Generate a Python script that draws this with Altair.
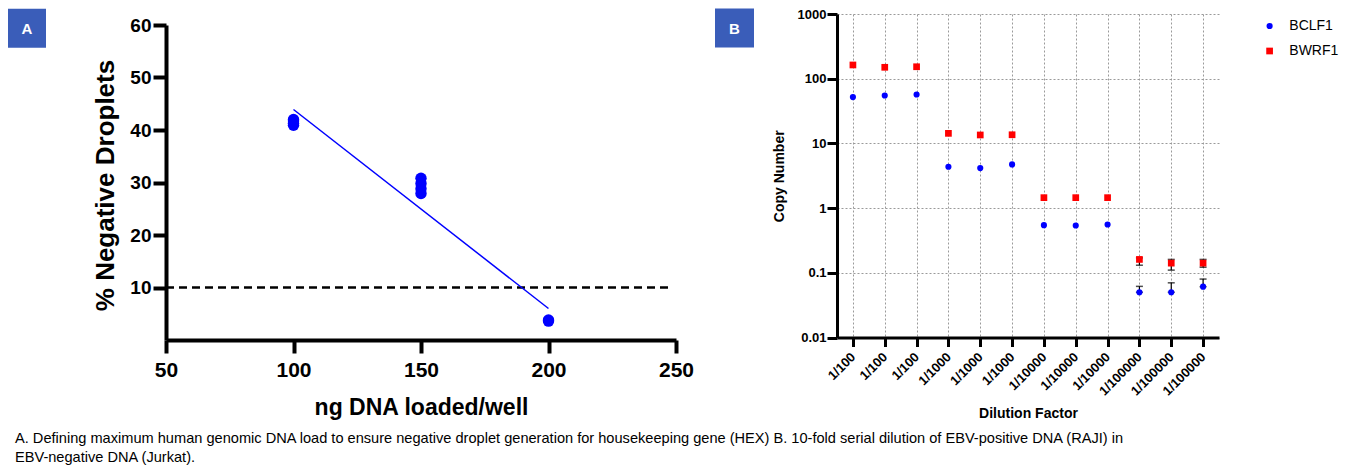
import json
import altair as alt
import pandas as pd

# ---------------- Panel A data ----------------
ng_dna = [100, 100, 100, 100, 150, 150, 150, 150, 200, 200]
neg_droplets = [40.9, 41.3, 41.7, 42.0, 27.9, 28.8, 29.8, 30.8, 3.6, 3.8]
fit_x = [100, 200]
fit_y = [43.9, 6.0]
threshold_x = [50, 248]
threshold_y = [10, 10]
a_xticks = [50, 100, 150, 200, 250]
a_yticks = [10, 20, 30, 40, 50, 60]

# ---------------- Panel B data ----------------
dilution_labels = ["1/100", "1/100", "1/100", "1/1000", "1/1000", "1/1000",
                   "1/10000", "1/10000", "1/10000", "1/100000", "1/100000", "1/100000"]
bclf1 = [52, 55, 57, 4.35, 4.15, 4.73, 0.545, 0.539, 0.558, 0.050, 0.050, 0.061]
bwrf1 = [163, 150, 153, 14.3, 13.5, 13.6, 1.45, 1.45, 1.45, 0.161, 0.141, 0.141]
err_idx = [9, 10, 11]
bclf1_err_low = [0.050, 0.050, 0.061]
bclf1_err_high = [0.0617, 0.070, 0.080]
bwrf1_err_low = [0.131, 0.110, 0.122]
bwrf1_err_high = [0.170, 0.161, 0.161]
series_names = ["BCLF1", "BWRF1"]
series_colors = ["#0000ff", "#ff0000"]
b_yticks = [0.01, 0.1, 1, 10, 100, 1000]

caption_lines = [
    "A. Defining maximum human genomic DNA load to ensure negative droplet generation for housekeeping gene (HEX)  B. 10-fold serial dilution of EBV-positive DNA (RAJI) in",
    "EBV-negative DNA (Jurkat).",
]

FONT = "Liberation Sans"
BOX = "#3a5db9"

# ================= Panel A =================
A_H = 326      # view height; data range starts 11px below the top
A_TOP = 11

dfa = pd.DataFrame({"x": ng_dna, "y": neg_droplets})
dffit = pd.DataFrame({"x": fit_x, "y": fit_y})
dfthr = pd.DataFrame({"x": threshold_x, "y": threshold_y})

xa_scale = alt.Scale(domain=[50, 250], nice=False, zero=False)
ya_scale = alt.Scale(domain=[0, 60], nice=False, range=[A_H, A_TOP])
xa_axis = alt.Axis(values=a_xticks, grid=False, domainWidth=4, domainColor="black",
                   tickWidth=4, tickSize=13, tickColor="black", labelFlush=False,
                   labelOverlap=False,
                   labelFont=FONT, labelFontWeight="bold", labelFontSize=21,
                   labelColor="black", labelPadding=6,
                   title="ng DNA loaded/well", titleFont=FONT, titleFontSize=23,
                   titleFontWeight="bold", titleColor="black",
                   titleX=255, titleY=67, titleBaseline="middle")
ya_axis = alt.Axis(values=a_yticks, grid=False, domainWidth=4, domainColor="black",
                   tickWidth=4, tickSize=13, tickColor="black", labelFlush=False,
                   labelOverlap=False,
                   labelFont=FONT, labelFontWeight="bold", labelFontSize=19,
                   labelColor="black", labelPadding=2,
                   title="% Negative Droplets", titleFont=FONT, titleFontSize=26,
                   titleFontWeight="bold", titleColor="black",
                   titleX=-60.5, titleY=171, titleBaseline="middle")
xa = alt.X("x:Q", scale=xa_scale, axis=xa_axis)
ya = alt.Y("y:Q", scale=ya_scale, axis=ya_axis)

a_points = alt.Chart(dfa).mark_circle(size=130, color="#0000ff", opacity=1).encode(x=xa, y=ya)
a_fit = alt.Chart(dffit).mark_line(color="#0000ff", strokeWidth=1.5).encode(x=xa, y=ya)
a_thr = alt.Chart(dfthr).mark_line(color="black", strokeWidth=2.5, strokeDash=[8, 5]).encode(x=xa, y=ya)

one = pd.DataFrame({"t": ["A"]})
a_box = alt.Chart(one).mark_rect(color=BOX).encode(
    x=alt.value(-158), x2=alt.value(-120), y=alt.value(-5.3), y2=alt.value(33.7))
a_lbl = alt.Chart(one).mark_text(color="white", font=FONT, fontWeight="bold", fontSize=15,
                                 align="center", baseline="middle").encode(
    x=alt.value(-139), y=alt.value(14.5), text="t:N")
cap = pd.DataFrame({"t": [caption_lines]})
a_cap = alt.Chart(cap).mark_text(color="black", font=FONT, fontSize=14.6, align="left",
                                 baseline="middle", lineHeight=19).encode(
    x=alt.value(-151), y=alt.value(424.7), text="t")

panel_a = alt.layer(a_thr, a_fit, a_points, a_box, a_lbl, a_cap).properties(width=510, height=A_H)

# ================= Panel B =================
rows = []
for i, lab in enumerate(dilution_labels):
    rows.append({"idx": i, "value": bclf1[i], "series": series_names[0]})
    rows.append({"idx": i, "value": bwrf1[i], "series": series_names[1]})
dfb = pd.DataFrame(rows)

erows = []
for k, i in enumerate(err_idx):
    erows.append({"idx": i, "lo": bclf1_err_low[k], "hi": bclf1_err_high[k], "series": series_names[0]})
    erows.append({"idx": i, "lo": bwrf1_err_low[k], "hi": bwrf1_err_high[k], "series": series_names[1]})
dfe = pd.DataFrame(erows)

label_expr = json.dumps(dilution_labels) + "[datum.value]"
xb_scale = alt.Scale(domain=[-0.5, len(dilution_labels) - 0.5], nice=False, zero=False)
xb_axis = alt.Axis(values=list(range(len(dilution_labels))), labelExpr=label_expr,
                   grid=True, gridDash=[2, 2], gridColor="#9a9a9a", gridWidth=1,
                   domainWidth=3, domainColor="black", tickWidth=3, tickSize=9,
                   tickColor="black", labelAngle=315, labelAlign="right",
                   labelBaseline="middle", labelFont=FONT, labelFontWeight="bold",
                   labelFontSize=13, labelColor="black", labelPadding=8, labelFlush=False,
                   labelOverlap=False, labelBound=False,
                   title="Dilution Factor", titleFont=FONT, titleFontSize=14,
                   titleFontWeight="bold", titleColor="black",
                   titleX=191, titleY=76, titleBaseline="middle")
yb_scale = alt.Scale(type="log", domain=[0.01, 1000], nice=False)
yb_axis = alt.Axis(values=b_yticks, format="~g", grid=True, gridDash=[2, 2],
                   gridColor="#9a9a9a", gridWidth=1, labelFlush=False, labelOverlap=False,
                   domainWidth=3, domainColor="black", tickWidth=3, tickSize=10,
                   tickColor="black", labelFont=FONT, labelFontWeight="bold",
                   labelFontSize=13, labelColor="black", labelPadding=1,
                   title="Copy Number", titleFont=FONT, titleFontSize=14,
                   titleFontWeight="bold", titleColor="black",
                   titleX=-58, titleY=161.75, titleBaseline="middle")
xb = alt.X("idx:Q", scale=xb_scale, axis=xb_axis)

leg = alt.Legend(orient="none", legendX=1096.6, legendY=5, title=None, labelFont=FONT,
                 labelFontSize=14, labelColor="black", symbolSize=45, labelOffset=12.7,
                 rowPadding=11, padding=0, symbolStrokeWidth=0)

b_rule = alt.Chart(dfe).mark_rule(color="black", strokeWidth=1.2).encode(
    x=xb, y=alt.Y("lo:Q", scale=yb_scale, axis=yb_axis), y2="hi:Q")
b_cap_hi = alt.Chart(dfe).mark_tick(color="black", orient="horizontal", size=7, thickness=1.5).encode(
    x=xb, y=alt.Y("hi:Q", scale=yb_scale, axis=yb_axis))
b_cap_lo = alt.Chart(dfe).mark_tick(color="black", orient="horizontal", size=7, thickness=1.5).encode(
    x=xb, y=alt.Y("lo:Q", scale=yb_scale, axis=yb_axis))
b_points = alt.Chart(dfb).mark_point(filled=True, opacity=1, strokeWidth=0).encode(
    x=xb, y=alt.Y("value:Q", scale=yb_scale, axis=yb_axis),
    color=alt.Color("series:N", scale=alt.Scale(domain=series_names, range=series_colors), legend=leg),
    shape=alt.Shape("series:N", scale=alt.Scale(domain=series_names, range=["circle", "square"]), legend=leg),
    size=alt.Size("series:N", scale=alt.Scale(domain=series_names, range=[38, 45]), legend=None),
)

oneb = pd.DataFrame({"t": ["B"]})
b_box = alt.Chart(oneb).mark_rect(color=BOX).encode(
    x=alt.value(-122), x2=alt.value(-83), y=alt.value(-5.5), y2=alt.value(33.5))
b_lbl = alt.Chart(oneb).mark_text(color="white", font=FONT, fontWeight="bold", fontSize=15,
                                  align="center", baseline="middle").encode(
    x=alt.value(-102.5), y=alt.value(14.5), text="t:N")

panel_b = alt.layer(b_rule, b_cap_hi, b_cap_lo, b_points, b_box, b_lbl).properties(width=382, height=323.5)

chart = alt.hconcat(panel_a, panel_b, spacing=161, bounds="flush").properties(
    padding=0
).configure_view(stroke=None).configure_axis(labelOverlap=False)

chart.save("out.html", embed_options={"renderer": "svg", "actions": False})
